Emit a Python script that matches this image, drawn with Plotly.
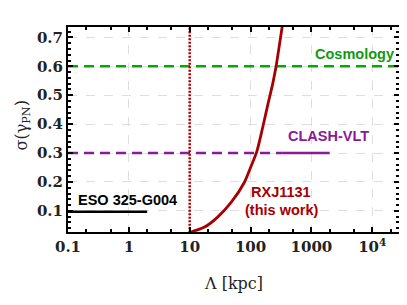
import plotly.graph_objects as go

# Data
lam_rxj = [10, 10.4, 17.6, 28.8, 48.3, 79.8, 100, 127, 159, 194, 232, 264, 331, 360]
sig_rxj = [0.02, 0.0255, 0.044, 0.0785, 0.130, 0.200, 0.250, 0.306, 0.390, 0.471, 0.541, 0.602, 0.736, 0.78]

lam_cosmo = [0.1, 3e4]
sig_cosmo = [0.6, 0.6]

lam_clash_dash = [0.1, 340]
lam_clash_solid = [340, 2000]
sig_clash = [0.3, 0.3]

lam_eso = [0.1, 2.0]
sig_eso = [0.097, 0.097]

lam_min = [10, 10]
sig_min = [0.0, 0.8]

tick_vals_x = [0.1, 1, 10, 100, 1000, 10000]
tick_text_x = ["<b>0.1</b>", "<b>1</b>", "<b>10</b>", "<b>100</b>", "<b>1000</b>", "<b>10<sup>4</sup></b>"]
tick_vals_y = [0.1, 0.2, 0.3, 0.4, 0.5, 0.6, 0.7]
tick_text_y = ["<b>0.1</b>", "<b>0.2</b>", "<b>0.3</b>", "<b>0.4</b>", "<b>0.5</b>", "<b>0.6</b>", "<b>0.7</b>"]

RED = "#a80000"
GREEN = "#00aa00"
PURPLE = "#8b1a96"

fig = go.Figure()
fig.add_trace(go.Scatter(x=lam_cosmo, y=sig_cosmo, mode="lines",
                         line=dict(color=GREEN, width=2.5, dash="10px,6px")))
fig.add_trace(go.Scatter(x=lam_clash_dash, y=sig_clash, mode="lines",
                         line=dict(color=PURPLE, width=2.5, dash="10px,6px")))
fig.add_trace(go.Scatter(x=lam_clash_solid, y=sig_clash, mode="lines",
                         line=dict(color=PURPLE, width=2.5)))
fig.add_trace(go.Scatter(x=lam_eso, y=sig_eso, mode="lines",
                         line=dict(color="black", width=2.5)))
fig.add_trace(go.Scatter(x=lam_min, y=sig_min, mode="lines",
                         line=dict(color=RED, width=2.5, dash="2px,1.5px")))
fig.add_trace(go.Scatter(x=lam_rxj, y=sig_rxj, mode="lines", line_shape="spline",
                         line=dict(color=RED, width=2.8, smoothing=0.8)))

lab_font = dict(family="Liberation Sans", size=14.5)
fig.add_annotation(x=3.705, y=0.644, xref="x", yref="y", text="<b>Cosmology</b>",
                   showarrow=False, font=dict(lab_font, color="#119911"))
fig.add_annotation(x=3.276, y=0.358, xref="x", yref="y", text="<b>CLASH-VLT</b>",
                   showarrow=False, font=dict(lab_font, color=PURPLE))
fig.add_annotation(x=2.503, y=0.165, xref="x", yref="y", text="<b>RXJ1131</b>",
                   showarrow=False, font=dict(lab_font, color=RED))
fig.add_annotation(x=2.503, y=0.104, xref="x", yref="y", text="<b>(this work)</b>",
                   showarrow=False, font=dict(lab_font, color=RED))
fig.add_annotation(x=-0.869, y=0.136, xref="x", yref="y", text="<b>ESO 325-G004</b>",
                   showarrow=False, xanchor="left", font=dict(lab_font, color="black"))

serif = dict(family="DejaVu Serif", size=15, color="#222")
axis_common = dict(showline=True, linecolor="black", linewidth=2, mirror="ticks",
                   ticks="inside", ticklen=5, tickwidth=1.5, tickcolor="black",
                   showgrid=True, gridcolor="#dedede", griddash="dash", gridwidth=1,
                   zeroline=False, automargin=False, tickfont=serif)

fig.update_xaxes(type="log", range=[-1, 4.44], tickvals=tick_vals_x, ticktext=tick_text_x,
                 minor=dict(ticks="inside", ticklen=3, tickcolor="black", showgrid=False),
                 **axis_common)
fig.update_yaxes(range=[0.027, 0.736], tickvals=tick_vals_y, ticktext=tick_text_y,
                 minor=dict(ticks="inside", ticklen=3, tickcolor="black", dtick=0.02, showgrid=False),
                 **axis_common)

fig.add_annotation(x=0.5, y=-0.249, xref="paper", yref="paper", yanchor="middle",
                   text="Λ [kpc]", showarrow=False, font=dict(serif, size=16))
fig.add_annotation(x=-0.139, y=0.52, xref="paper", yref="paper", xanchor="center",
                   text="σ(γ<sub>PN</sub>)", textangle=-90, showarrow=False,
                   font=dict(serif, size=16))

fig.update_layout(width=399, height=297, showlegend=False,
                  margin=dict(l=60, r=8, t=19, b=73),
                  plot_bgcolor="white", paper_bgcolor="white")

fig.write_html("out.html")
